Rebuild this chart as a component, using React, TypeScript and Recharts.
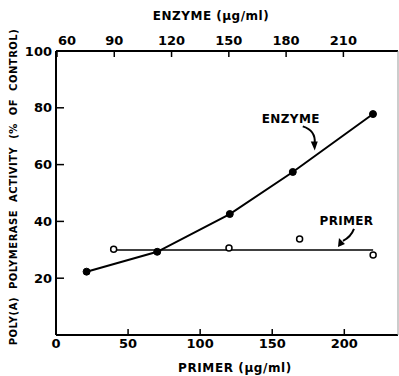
import React from 'react';
import { ComposedChart, Line, XAxis, YAxis, ReferenceDot } from 'recharts';

// Enzyme series (µg/ml enzyme, % of control)
const enzymeConc = [75.5, 112.5, 150.5, 183.5, 225.5];
const enzymeActivity = [22.3, 29.3, 42.6, 57.4, 77.8];

// Primer series (µg/ml primer, % of control)
const primerConc = [40, 120, 169, 220];
const primerActivity = [30.2, 30.6, 33.8, 28.2];

// Primer fitted line
const primerFitConc = [40, 220];
const primerFitActivity = [29.9, 29.9];

const primerTicks = [0, 50, 100, 150, 200];
const enzymeTicks = [60, 90, 120, 150, 180, 210];
const activityTicks = [20, 40, 60, 80, 100];

const enzymeData = enzymeConc.map((x, i) => ({ x, y: enzymeActivity[i] }));
const primerData = primerConc.map((x, i) => ({ x, y: primerActivity[i] }));
const primerFitData = primerFitConc.map((x, i) => ({ x, y: primerFitActivity[i] }));

const FONT = 'DejaVu Sans';
const tickStyle = { fill: '#000', fontSize: 13, fontWeight: 'bold', fontFamily: FONT };

const TopTick = (props: any) => {
  const { x, y, payload } = props;
  const dx = payload.value === 60 ? 10 : 0;
  return (
    <text x={x + dx} y={y} textAnchor="middle" fill="#000" fontSize={13} fontWeight="bold" fontFamily={FONT}>
      {payload.value}
    </text>
  );
};

const EnzymeNote = (props: any) => {
  const { cx, cy } = props;
  if (cx == null || cy == null) return null;
  return (
    <g>
      <text x={cx - 24} y={cy - 27} textAnchor="middle" fill="#000" fontSize={12} fontWeight="bold" fontFamily={FONT} letterSpacing={0.4}>
        ENZYME
      </text>
      <path d={`M ${cx - 12} ${cy - 24} Q ${cx + 1} ${cy - 20} ${cx} ${cy - 7}`} stroke="#000" strokeWidth={2} fill="none" />
      <polygon points={`${cx - 4},${cy - 9} ${cx + 3},${cy - 9} ${cx},${cy}`} fill="#000" />
    </g>
  );
};

const PrimerNote = (props: any) => {
  const { cx, cy } = props;
  if (cx == null || cy == null) return null;
  return (
    <g>
      <text x={cx + 8.5} y={cy - 22} textAnchor="middle" fill="#000" fontSize={12} fontWeight="bold" fontFamily={FONT} letterSpacing={0.3}>
        PRIMER
      </text>
      <path d={`M ${cx + 16} ${cy - 18} Q ${cx + 13} ${cy - 10} ${cx + 5} ${cy - 6}`} stroke="#000" strokeWidth={2} fill="none" />
      <polygon points={`${cx + 1},${cy - 9} ${cx + 7},${cy - 3} ${cx},${cy}`} fill="#000" />
    </g>
  );
};

export default function App() {
  return (
    <div style={{ position: 'absolute', left: 0, top: 0, width: 399, height: 376, background: '#fff' }}>
      <ComposedChart width={399} height={376} margin={{ top: 21, right: 0, bottom: 11, left: 0 }}>
        <XAxis
          xAxisId="primer"
          dataKey="x"
          type="number"
          orientation="bottom"
          domain={[0, 237.25]}
          ticks={primerTicks}
          allowDataOverflow
          height={30}
          tickSize={-6}
          tickMargin={10}
          tick={tickStyle}
          axisLine={{ stroke: '#000', strokeWidth: 2 }}
          tickLine={{ stroke: '#000', strokeWidth: 1.5 }}
        />
        <XAxis
          xAxisId="enzyme"
          dataKey="x"
          type="number"
          orientation="top"
          domain={[59.48, 238.6]}
          ticks={enzymeTicks}
          allowDataOverflow
          height={30}
          tickSize={-6}
          tickMargin={12}
          tick={<TopTick />}
          axisLine={{ stroke: '#000', strokeWidth: 2 }}
          tickLine={{ stroke: '#000', strokeWidth: 1.5 }}
        />
        <YAxis
          yAxisId="act"
          type="number"
          domain={[0, 100]}
          ticks={activityTicks}
          allowDataOverflow
          width={56}
          tickSize={-8}
          tickMargin={12}
          tick={tickStyle}
          axisLine={{ stroke: '#000', strokeWidth: 2 }}
          tickLine={{ stroke: '#000', strokeWidth: 1.5 }}
        />
        <YAxis
          yAxisId="right"
          orientation="right"
          type="number"
          domain={[0, 100]}
          width={1}
          tick={false}
          tickLine={false}
          axisLine={{ stroke: '#999', strokeWidth: 1 }}
        />
        <Line
          xAxisId="primer"
          yAxisId="act"
          data={primerFitData}
          dataKey="y"
          type="linear"
          stroke="#000"
          strokeWidth={1.5}
          dot={false}
          isAnimationActive={false}
        />
        <Line
          xAxisId="primer"
          yAxisId="act"
          data={primerData}
          dataKey="y"
          stroke="none"
          dot={{ r: 3, stroke: '#000', strokeWidth: 1.5, fill: '#fff' }}
          isAnimationActive={false}
        />
        <Line
          xAxisId="enzyme"
          yAxisId="act"
          data={enzymeData}
          dataKey="y"
          type="linear"
          stroke="#000"
          strokeWidth={2}
          dot={{ r: 3.5, stroke: '#000', strokeWidth: 1, fill: '#000' }}
          isAnimationActive={false}
        />
        <ReferenceDot xAxisId="enzyme" yAxisId="act" x={195} y={65} shape={<EnzymeNote />} ifOverflow="visible" />
        <ReferenceDot xAxisId="primer" yAxisId="act" x={195.6} y={31} shape={<PrimerNote />} ifOverflow="visible" />
      </ComposedChart>
      <svg width={399} height={376} style={{ position: 'absolute', left: 0, top: 0, pointerEvents: 'none' }}>
        <text x={211} y={20} textAnchor="middle" fill="#000" fontSize={12} fontWeight="bold" fontFamily={FONT} letterSpacing={0.5}>
          ENZYME (µg/ml)
        </text>
        <text x={235} y={372} textAnchor="middle" fill="#000" fontSize={12} fontWeight="bold" fontFamily={FONT} letterSpacing={0.6}>
          PRIMER (µg/ml)
        </text>
        <text
          x={0}
          y={0}
          transform="translate(17,187) rotate(-90)"
          textAnchor="middle"
          fill="#000"
          fontSize={10}
          fontWeight="bold"
          fontFamily={FONT}
          letterSpacing={0.5}
          style={{ wordSpacing: 4 }}
        >
          POLY(A) POLYMERASE ACTIVITY (% OF CONTROL)
        </text>
      </svg>
    </div>
  );
}
